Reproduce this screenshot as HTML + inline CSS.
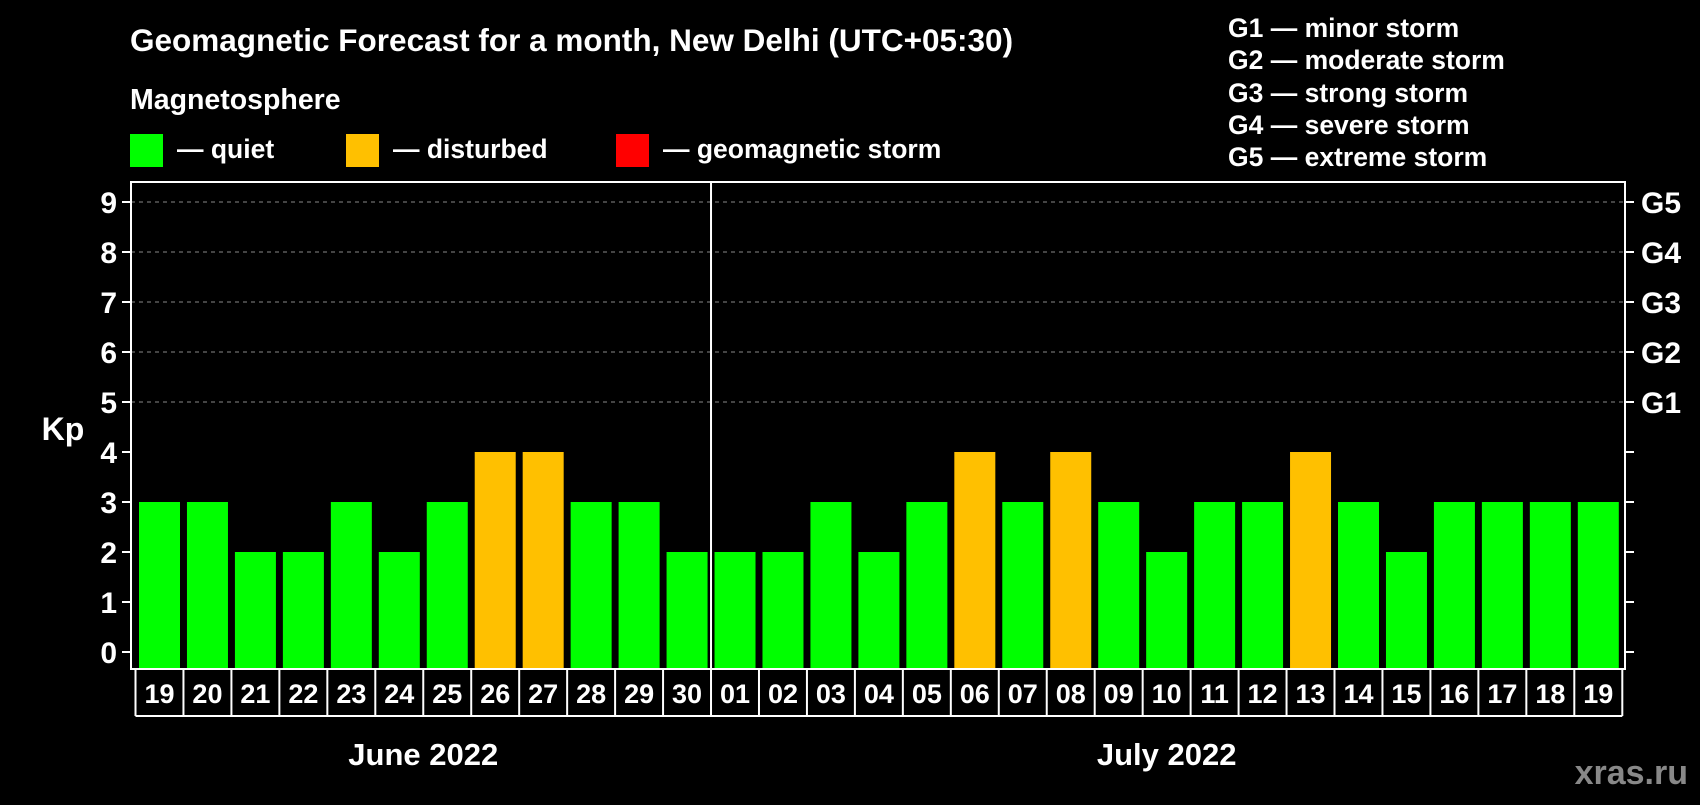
<!DOCTYPE html>
<html><head><meta charset="utf-8"><style>
body{margin:0;background:#000;width:1700px;height:800px;overflow:hidden;font-family:"Liberation Sans",Arial,sans-serif}
</style></head><body>
<svg id="chart" width="1700" height="800" xmlns="http://www.w3.org/2000/svg" font-family="Liberation Sans, Arial, sans-serif" font-weight="bold">
<rect width="1700" height="800" fill="#000"/>
<text x="130" y="51" fill="#fff" font-size="31.5">Geomagnetic Forecast for a month, New Delhi (UTC+05:30)</text>
<text x="130" y="109" fill="#fff" font-size="28.5">Magnetosphere</text>
<g><rect x="130" y="134" width="33" height="33" fill="#00ff00"/><text x="177" y="158" fill="#fff" font-size="26.5">— quiet</text></g>
<g><rect x="346" y="134" width="33" height="33" fill="#ffc000"/><text x="393" y="158" fill="#fff" font-size="26.5">— disturbed</text></g>
<g><rect x="616" y="134" width="33" height="33" fill="#ff0000"/><text x="663" y="158" fill="#fff" font-size="26.5">— geomagnetic storm</text></g>
<g fill="#fff" font-size="26.5">
<text x="1228" y="37">G1 — minor storm</text>
<text x="1228" y="69">G2 — moderate storm</text>
<text x="1228" y="102">G3 — strong storm</text>
<text x="1228" y="134">G4 — severe storm</text>
<text x="1228" y="166">G5 — extreme storm</text>
</g>
<text x="63" y="440" fill="#fff" font-size="32" text-anchor="middle">Kp</text>
<g id="grid"></g><g id="bars"></g><g id="axes"></g>
<text x="1688" y="784" fill="#888" font-size="34" text-anchor="end">xras.ru</text>
</svg>
<script>
const days=["19","20","21","22","23","24","25","26","27","28","29","30","01","02","03","04","05","06","07","08","09","10","11","12","13","14","15","16","17","18","19"];
const kpValues=[3,3,2,2,3,2,3,4,4,3,3,2,2,2,3,2,3,4,3,4,3,2,3,3,4,3,2,3,3,3,3];
const yTicks=[0,1,2,3,4,5,6,7,8,9];
const gLabels=["G1","G2","G3","G4","G5"];
const months=["June 2022","July 2022"];
const monthStartIdx=[0,12];
const NS="http://www.w3.org/2000/svg";
const L=131,R=1625,T=182,B=669,x0=139,pitch=47.96,bw=41;
const y=v=>652-v*50;
const xs=i=>x0+i*pitch;
function mk(tag,attrs,parent){const e=document.createElementNS(NS,tag);for(const k in attrs)e.setAttribute(k,attrs[k]);parent.appendChild(e);return e;}
const grid=document.getElementById('grid'),bars=document.getElementById('bars'),axes=document.getElementById('axes');
yTicks.forEach(v=>{
  if(v>=5){const l=mk('line',{x1:L,x2:R,y1:y(v),y2:y(v),stroke:'#888','stroke-dasharray':'4,4','stroke-width':1},grid);
  }
  mk('line',{x1:L-9,x2:L,y1:y(v),y2:y(v),stroke:'#fff','stroke-width':2},axes);
  mk('line',{x1:R,x2:R+9,y1:y(v),y2:y(v),stroke:'#fff','stroke-width':2},axes);
  const t=mk('text',{x:117,y:y(v)+11,fill:'#fff','font-size':30,'text-anchor':'end'},axes);t.textContent=v;
  
});
gLabels.forEach((g,i)=>{const t=mk('text',{x:1641,y:y(5+i)+11,fill:'#fff','font-size':30},axes);t.textContent=g;
  });
kpValues.forEach((v,i)=>{
  const c=v>=5?'#ff0000':(v>=4?'#ffc000':'#00ff00');
  const r=mk('rect',{x:xs(i),y:y(v),width:bw,height:B-1-y(v),fill:c},bars);
  
  const t=mk('text',{x:xs(i)+bw/2,y:703,fill:'#fff','font-size':27,'text-anchor':'middle'},axes);t.textContent=days[i];
  
  mk('line',{x1:xs(i)-3.5,x2:xs(i)-3.5,y1:B,y2:716,stroke:'#fff','stroke-width':2},axes);
});
const lastX=xs(days.length-1)+bw+3.5;
mk('line',{x1:lastX,x2:lastX,y1:B,y2:716,stroke:'#fff','stroke-width':2},axes);
mk('line',{x1:xs(0)-3.5,x2:lastX,y1:716,y2:716,stroke:'#fff','stroke-width':2},axes);
const frame=mk('rect',{x:L,y:T,width:R-L,height:B-T,fill:'none',stroke:'#fff','stroke-width':2},axes);

const dx=xs(monthStartIdx[1])-3.5;
const div=mk('line',{x1:dx,x2:dx,y1:T,y2:B,stroke:'#fff','stroke-width':2},axes);

months.forEach((m,k)=>{const s=monthStartIdx[k],e=k+1<months.length?monthStartIdx[k+1]:days.length;
  const cx=(xs(s)+xs(e-1)+bw)/2;
  const t=mk('text',{x:cx,y:765,fill:'#fff','font-size':31,'text-anchor':'middle'},axes);t.textContent=m;
  });
</script>
</body></html>
